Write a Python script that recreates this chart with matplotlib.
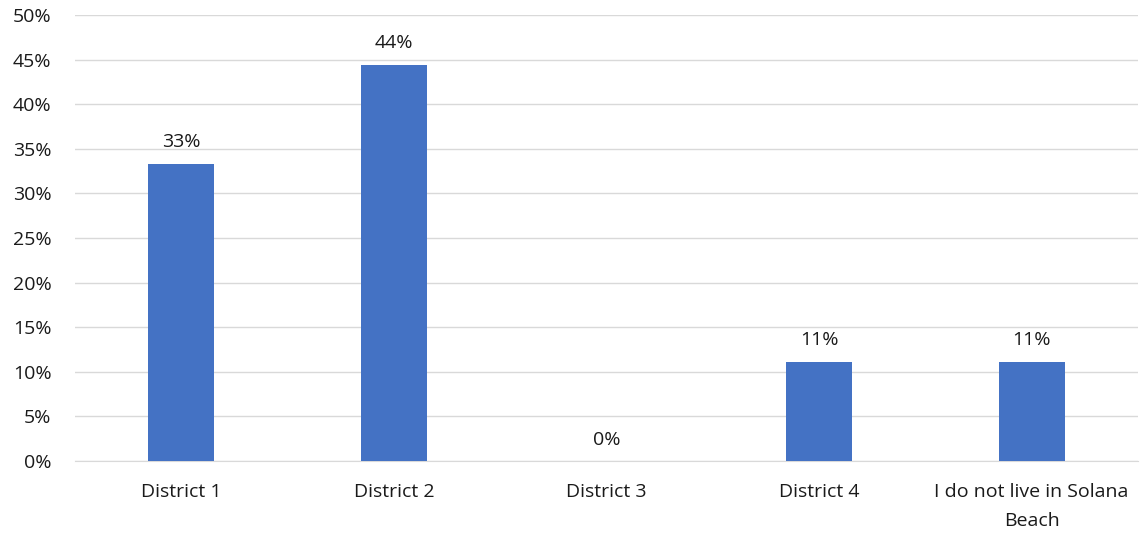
import matplotlib.pyplot as plt
import numpy as np

# survey answers
categories = ['District 1', 'District 2', 'District 3', 'District 4',
              'I do not live in Solana\nBeach']
values = [33.33, 44.44, 0.0, 11.11, 11.11]
labels = ['33%', '44%', '0%', '11%', '11%']
yticks = [0, 5, 10, 15, 20, 25, 30, 35, 40, 45, 50]

plt.rcParams['font.family'] = ['Open Sans', 'DejaVu Sans']

fig = plt.figure(figsize=(11.43, 5.38), dpi=100)
ax = fig.add_axes([0.0656, 0.1431, 0.9300, 0.8290])

x = np.arange(len(categories))
ax.bar(x, values, width=0.31, color='#4472C4', zorder=3)

for xi, v, lab in zip(x, values, labels):
    ax.text(xi, v + 1.4, lab, ha='center', va='bottom', fontsize=14, color='#1a1a1a')

ax.set_xlim(-0.5, len(categories) - 0.5)
ax.set_ylim(0, 50)
ax.set_yticks(yticks)
ax.set_yticklabels([f'{t}%' for t in yticks])
ax.set_xticks(x)
ax.set_xticklabels(categories, va='top', linespacing=1.75)

ax.grid(axis='y', color='#D9D9D9', lw=1, zorder=0)
for s in ['top', 'right', 'left']:
    ax.spines[s].set_visible(False)
ax.spines['bottom'].set_color('#D9D9D9')
ax.tick_params(length=0, labelsize=14, colors='#1a1a1a')
ax.tick_params(axis='x', pad=16)
ax.tick_params(axis='y', pad=17)

fig.savefig('out.png', dpi=100)
